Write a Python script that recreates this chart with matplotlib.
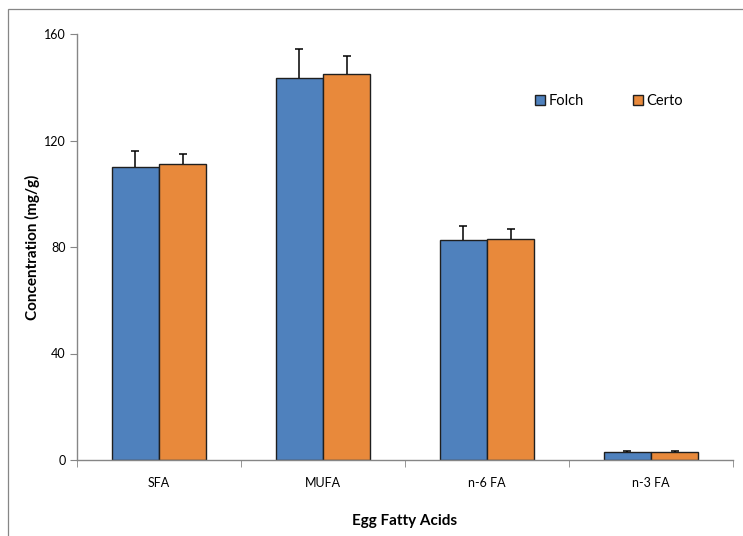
import matplotlib
matplotlib.use("Agg")
import matplotlib.pyplot as plt
from matplotlib.patches import Rectangle
import numpy as np

# ============== Data ================
categories = ["SFA", "MUFA", "n-6 FA", "n-3 FA"]
folch = [110, 143.5, 82.5, 3.1]
folch_err = [6, 11, 5.2, 0.2]
certo = [111, 145, 83, 3.1]
certo_err = [4, 6.8, 3.6, 0.2]

BLUE = "#4F81BD"
ORANGE = "#E8893B"
AXIS_GRAY = "#868686"

plt.rcParams.update({
    "font.family": ["Lato", "DejaVu Sans"],
    "font.size": 9,
})

fig = plt.figure(figsize=(7.43, 5.36), dpi=100)
W, H = 743, 536
ax = fig.add_axes([77 / W, (H - 460) / H, (733 - 77) / W, (460 - 34) / H])

# outer chart border
fig.patches.append(Rectangle((8 / W, -0.05), 1.1, (H - 9) / H + 0.05,
                             transform=fig.transFigure, fill=False,
                             edgecolor=AXIS_GRAY, linewidth=0.9))

x = np.arange(len(categories))
bw = 0.287
err_kw = {"ecolor": "black", "elinewidth": 1.1, "capsize": 3, "capthick": 1.1}
bars = []
bars.append(ax.bar(x - bw / 2, folch, bw, color=BLUE, edgecolor="#1f1f1f", linewidth=1.0,
                   yerr=[np.zeros(len(folch)), folch_err], error_kw=err_kw, label="Folch"))
bars.append(ax.bar(x + bw / 2, certo, bw, color=ORANGE, edgecolor="#1f1f1f", linewidth=1.0,
                   yerr=[np.zeros(len(certo)), certo_err], error_kw=err_kw, label="Certo"))
# only the upper caps are drawn
for b in bars:
    caps = b.errorbar.lines[1]
    caps[0].set_visible(False)

ax.set_xlim(-0.5, len(categories) - 0.5)
ax.set_ylim(0, 160)
ax.set_yticks([0, 40, 80, 120, 160])
ax.set_xticks(x)
ax.set_xticklabels(categories)
ax.set_xticks(np.arange(-0.5, len(categories)), minor=True)
ax.tick_params(axis="x", which="major", length=0, pad=12)
ax.tick_params(axis="x", which="minor", length=5, color=AXIS_GRAY, direction="out")
ax.tick_params(axis="y", length=5, color=AXIS_GRAY, direction="out", pad=3)

for s in ["top", "right"]:
    ax.spines[s].set_visible(False)
for s in ["left", "bottom"]:
    ax.spines[s].set_color(AXIS_GRAY)
    ax.spines[s].set_linewidth(1.0)

ax.set_ylabel("Concentration (mg/g)", fontsize=11, fontweight="bold", labelpad=3)
ax.set_xlabel("Egg Fatty Acids", fontsize=11, fontweight="bold", labelpad=18)

leg = ax.legend(loc="center", bbox_to_anchor=((609 - 77) / (733 - 77), (460 - 101) / (460 - 34)),
                ncol=2, frameon=False, handlelength=0.7, handleheight=0.7,
                handletextpad=0.2, columnspacing=3.4, fontsize=10.5)

fig.savefig("out.png", dpi=100)
